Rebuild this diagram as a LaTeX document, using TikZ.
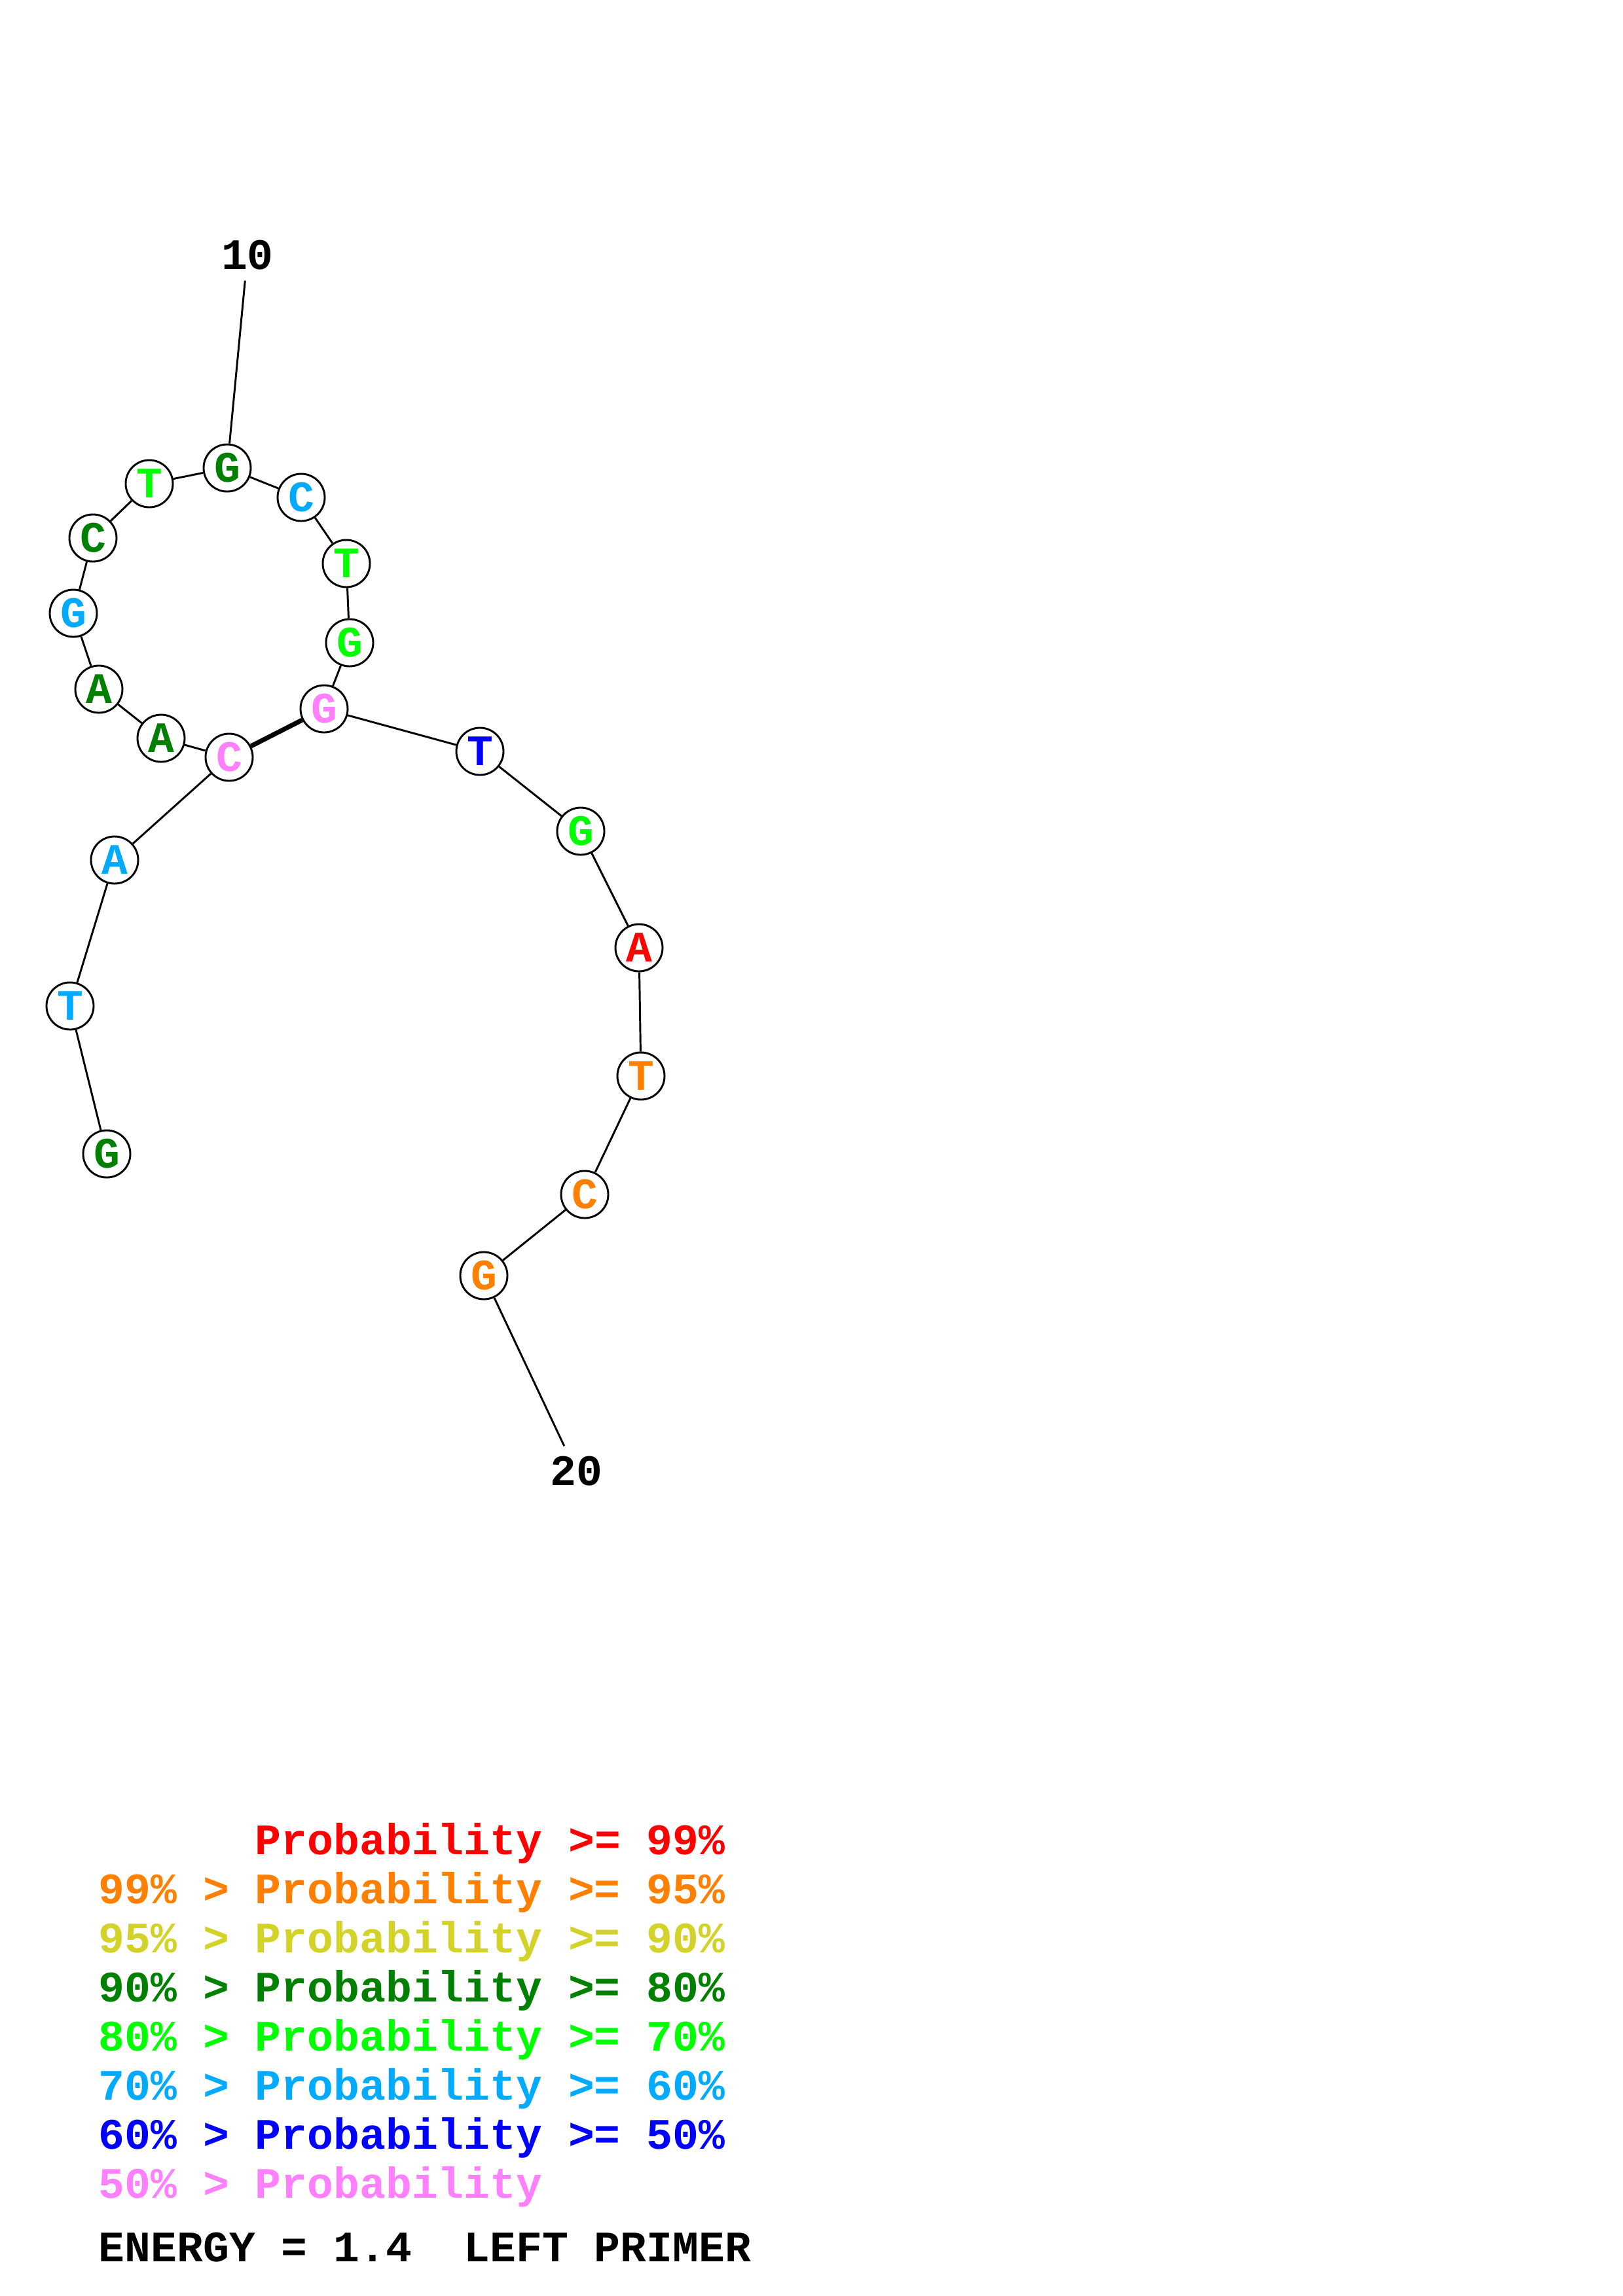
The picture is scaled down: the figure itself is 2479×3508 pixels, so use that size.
\documentclass[tikz,border=0pt]{standalone}
\usepackage{fontspec}
\setmonofont{Liberation Mono}
\usepackage{tikz}
\usetikzlibrary{positioning}

\definecolor{pr99}{RGB}{255,0,0}
\definecolor{pr95}{RGB}{255,128,0}
\definecolor{pr90}{RGB}{210,210,40}
\definecolor{pr80}{RGB}{0,128,0}
\definecolor{pr70}{RGB}{0,255,0}
\definecolor{pr60}{RGB}{0,170,255}
\definecolor{pr50}{RGB}{0,0,255}
\definecolor{prlow}{RGB}{255,128,255}

\tikzset{
    base/.style={circle,draw=black,line width=0.25mm,fill=white,minimum size=6.1mm,inner sep=0pt,font=\ttfamily\bfseries\fontsize{16}{16}\selectfont},
    bond/.style={line width=0.25mm},
    pair/.style={line width=0.6mm},
    numlabel/.style={inner sep=1.3mm,font=\ttfamily\bfseries\fontsize{16}{16}\selectfont},
    legend/.style={anchor=base west,inner sep=0pt,font=\ttfamily\bfseries\fontsize{16}{16}\selectfont}
}

\begin{document}
\begin{tikzpicture}[x=0.0846667mm,y=-0.0846667mm]
    \useasboundingbox (0,0) rectangle (2479,3508);

    % Basi
    \node[base,text=pr80] (n1) at (163,1763) {G};
    \node[base,text=pr60] (n2) at (107,1537) {T};
    \node[base,text=pr60] (n3) at (175,1314) {A};
    \node[base,text=prlow] (n4) at (350,1157) {C};
    \node[base,text=pr80] (n5) at (246,1128) {A};
    \node[base,text=pr80] (n6) at (151,1053) {A};
    \node[base,text=pr60] (n7) at (112,937) {G};
    \node[base,text=pr80] (n8) at (142,822) {C};
    \node[base,text=pr70] (n9) at (228,739) {T};
    \node[base,text=pr80] (n10) at (347,715) {G};
    \node[base,text=pr60] (n11) at (460,760) {C};
    \node[base,text=pr70] (n12) at (529,861) {T};
    \node[base,text=pr70] (n13) at (534,982) {G};
    \node[base,text=prlow] (n14) at (495,1083) {G};
    \node[base,text=pr50] (n15) at (733,1148) {T};
    \node[base,text=pr70] (n16) at (887,1270) {G};
    \node[base,text=pr99] (n17) at (976,1448) {A};
    \node[base,text=pr95] (n18) at (979,1644) {T};
    \node[base,text=pr95] (n19) at (893,1825) {C};
    \node[base,text=pr95] (n20) at (739,1949) {G};

    % Numeri
    \node[numlabel] (l10) at (378,390) {10};
    \node[numlabel] (l20) at (880,2248) {20};

    % Legami
    \draw[bond] (n1) -- (n2) -- (n3) -- (n4) -- (n5) -- (n6) -- (n7) -- (n8) -- (n9) -- (n10);
    \draw[bond] (n10) -- (n11) -- (n12) -- (n13) -- (n14) -- (n15) -- (n16) -- (n17) -- (n18) -- (n19) -- (n20);
    \draw[pair] (n4) -- (n14);
    \draw[bond] (n10) -- (l10);
    \draw[bond] (n20) -- (l20);

    % Legenda
    \node[legend,text=pr99] (r1) at (150,2833) {\hphantom{99\% > }Probability >= 99\%};
    \node[legend,text=pr95] (r2) at (150,2908) {99\% > Probability >= 95\%};
    \node[legend,text=pr90] (r3) at (150,2983) {95\% > Probability >= 90\%};
    \node[legend,text=pr80] (r4) at (150,3058) {90\% > Probability >= 80\%};
    \node[legend,text=pr70] (r5) at (150,3133) {80\% > Probability >= 70\%};
    \node[legend,text=pr60] (r6) at (150,3208) {70\% > Probability >= 60\%};
    \node[legend,text=pr50] (r7) at (150,3283) {60\% > Probability >= 50\%};
    \node[legend,text=prlow] (r8) at (150,3358) {50\% > Probability};
    \node[legend] (energy) at (150,3455) {ENERGY = 1.4\ \ LEFT PRIMER};
\end{tikzpicture}
\end{document}
